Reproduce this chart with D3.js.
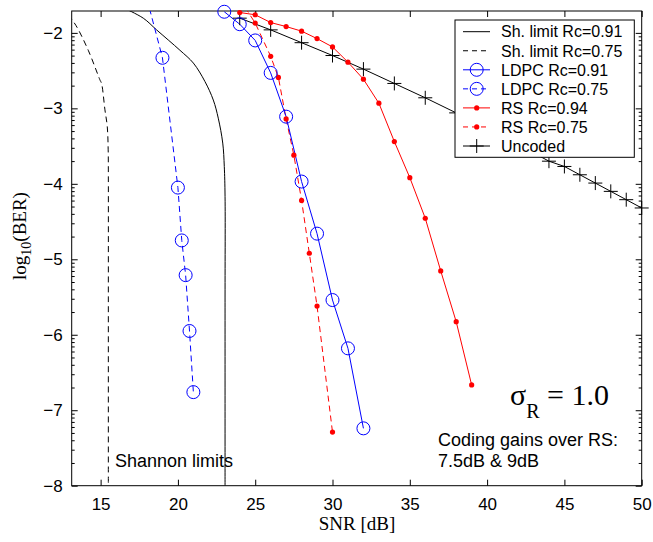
<!DOCTYPE html>
<html><head><meta charset="utf-8">
<script src="https://cdn.jsdelivr.net/npm/d3@7"></script>
<style>
body{margin:0;background:#fff;}
svg{display:block;}
</style></head>
<body>
<svg id="chart" width="653" height="542"></svg>
<script>
// ---- data ----
const xTicks = [15,20,25,30,35,40,45,50];
const yTicks = [-2,-3,-4,-5,-6,-7,-8];

const shannon091 = [[16.5,-1.67],[17.76,-1.805],[18.62,-1.96],[20.13,-2.23],[21.0,-2.40],[21.75,-2.645],[22.29,-2.89],[22.61,-3.13],[22.9,-3.46],[23.0,-3.77],[23.05,-4.17],[23.05,-5.5],[23.05,-8.0]];
const shannon075 = [[12.9,-1.76],[13.4,-1.90],[14.2,-2.23],[14.95,-2.62],[15.06,-2.67],[15.28,-3.02],[15.43,-3.24],[15.49,-3.55],[15.5,-3.9],[15.5,-5.5],[15.5,-8.0]];

const ldpc091Snr = [23,24,25,26,27,28,29,30,31,32];
const ldpc091Ber = [-1.72,-1.885,-2.10,-2.53,-3.11,-3.97,-4.66,-5.54,-6.18,-7.24];

const ldpc075Snr = [18,19,20,20.25,20.5,20.75,21];
const ldpc075Ber = [-1.55,-2.33,-4.05,-4.75,-5.21,-5.95,-6.76];

const rs094Snr = [24,25,26,27,28,29,30,31,32,33,34,35,36,37,38,39];
const rs094Ber = [-1.73,-1.76,-1.863,-1.916,-1.977,-2.076,-2.186,-2.388,-2.614,-2.932,-3.44,-3.918,-4.456,-5.154,-5.826,-6.665];

const rs075Snr = [24,25,26,26.5,27,27.5,28,28.5,29,30];
const rs075Ber = [-1.55,-1.87,-2.31,-2.59,-3.14,-3.62,-4.22,-4.92,-5.62,-7.29];

const uncodedSnr = [24,26,28,30,32,34,36,38,40,42,44,45,46,47,48,49,50];
const uncodedBer = [-1.805,-1.96,-2.13,-2.30,-2.48,-2.67,-2.86,-3.06,-3.27,-3.48,-3.70,-3.77,-3.88,-3.99,-4.10,-4.21,-4.32];

const legendLabels = ["Sh. limit Rc=0.91","Sh. limit Rc=0.75","LDPC Rc=0.91","LDPC Rc=0.75","RS Rc=0.94","RS Rc=0.75","Uncoded"];

// ---- layout ----
const svg = d3.select("#chart");
const L = 71.7, R = 641.7, T = 11, B = 485.7;
const x = d3.scaleLinear().domain([13.13, 50]).range([L, R]);
const y = d3.scaleLinear().domain([-8, -1.71]).range([B, T]);

const sans = "Arial, 'Liberation Sans', Helvetica, sans-serif";
const serif = "'Times New Roman', 'Liberation Serif', serif";

svg.append("defs").append("clipPath").attr("id","clip")
  .append("rect").attr("x",L).attr("y",T).attr("width",R-L).attr("height",B-T);

// axes (bottom/top/left/right)
const gx = svg.append("g").attr("transform",`translate(0,${B})`)
  .call(d3.axisBottom(x).tickValues(xTicks).tickSize(-6).tickPadding(12).tickFormat(d3.format("d")));
const gxt = svg.append("g").attr("transform",`translate(0,${T})`)
  .call(d3.axisTop(x).tickValues(xTicks).tickSize(-6).tickFormat(""));
const gy = svg.append("g").attr("transform",`translate(${L},0)`)
  .call(d3.axisLeft(y).tickValues(yTicks).tickSize(-6).tickPadding(9).tickFormat(d3.format("d")));
const gyr = svg.append("g").attr("transform",`translate(${R},0)`)
  .call(d3.axisRight(y).tickValues(yTicks).tickSize(-6).tickFormat(""));

// minor log ticks
const minor = [];
for (let n=-8;n<=-2;n++) for (let k=2;k<=9;k++){ const v=n+Math.log10(k); if(v<=-1.71) minor.push(v);}
svg.append("g").attr("transform",`translate(${L},0)`)
  .call(d3.axisLeft(y).tickValues(minor).tickSize(-3).tickFormat(""));
svg.append("g").attr("transform",`translate(${R},0)`)
  .call(d3.axisRight(y).tickValues(minor).tickSize(-3).tickFormat(""));

svg.selectAll(".domain").remove();
svg.selectAll(".tick line").attr("stroke","#000").attr("stroke-width",1);
gx.selectAll("text").attr("font-family",sans).attr("font-size",17).attr("fill","#000");
gy.selectAll("text").attr("font-family",sans).attr("font-size",17).attr("fill","#000");

// frame
svg.append("rect").attr("x",L).attr("y",T).attr("width",R-L).attr("height",B-T)
  .attr("fill","none").attr("stroke","#000").attr("stroke-width",1);

const line = d3.line().x(d=>x(d[0])).y(d=>y(d[1]));
const plot = svg.append("g");
const clipped = plot.append("g").attr("clip-path","url(#clip)");

const dash = "6,4";
clipped.append("path").datum(shannon091).attr("d",line.curve(d3.curveCatmullRom.alpha(0.5)))
  .attr("fill","none").attr("stroke","#000").attr("stroke-width",1);
clipped.append("path").datum(shannon075).attr("d",line.curve(d3.curveCatmullRom.alpha(0.5)))
  .attr("fill","none").attr("stroke","#000").attr("stroke-width",1).attr("stroke-dasharray",dash);
line.curve(d3.curveLinear);

function series(snr, ber, color, dashed, marker){
  const pts = snr.map((s,i)=>[s,ber[i]]);
  clipped.append("path").datum(pts).attr("d",line)
    .attr("fill","none").attr("stroke",color).attr("stroke-width",1)
    .attr("stroke-dasharray",dashed?dash:null);
  const vis = pts.filter(p=>p[1] <= -1.71+0.02);
  const g = plot.append("g");
  vis.forEach(p=>drawMarker(g, x(p[0]), y(p[1]), color, marker));
}
function drawMarker(g, cx, cy, color, marker){
  if (marker==="o") g.append("circle").attr("cx",cx).attr("cy",cy).attr("r",6.5)
      .attr("fill","none").attr("stroke",color).attr("stroke-width",1);
  else if (marker==="dot") g.append("circle").attr("cx",cx).attr("cy",cy).attr("r",2.6).attr("fill",color);
  else if (marker==="+") { g.append("path").attr("d",`M${cx-7},${cy}H${cx+7}M${cx},${cy-7}V${cy+7}`)
      .attr("stroke",color).attr("stroke-width",1); }
}
series(uncodedSnr, uncodedBer, "#000", false, "+");
series(rs094Snr, rs094Ber, "#ff0000", false, "dot");
series(rs075Snr, rs075Ber, "#ff0000", true, "dot");
series(ldpc091Snr, ldpc091Ber, "#0000ff", false, "o");
series(ldpc075Snr, ldpc075Ber, "#0000ff", true, "o");

// legend
const lg = svg.append("g");
lg.append("rect").attr("x",455).attr("y",20).attr("width",179.3).attr("height",137.3)
  .attr("fill","#fff").attr("stroke","#000").attr("stroke-width",1);
const legStyles = [
  {c:"#000",d:false,m:null},{c:"#000",d:true,m:null},
  {c:"#0000ff",d:false,m:"o"},{c:"#0000ff",d:true,m:"o"},
  {c:"#ff0000",d:false,m:"dot"},{c:"#ff0000",d:true,m:"dot"},
  {c:"#000",d:false,m:"+"}];
legendLabels.forEach((t,i)=>{
  const cy = 31.7 + i*19.05;
  const s = legStyles[i];
  lg.append("line").attr("x1",463).attr("x2",490).attr("y1",cy).attr("y2",cy)
    .attr("stroke",s.c).attr("stroke-width",1).attr("stroke-dasharray",s.d?"5,4":null);
  if (s.m) drawMarker(lg, 476.7, cy, s.c, s.m);
  lg.append("text").attr("x",501).attr("y",cy).attr("dy","0.36em")
    .attr("font-family",sans).attr("font-size",16).text(t);
});

// axis labels
svg.append("text").attr("x",357).attr("y",530).attr("text-anchor","middle")
  .attr("font-family",serif).attr("font-size",19).text("SNR [dB]");
const yl = svg.append("text").attr("transform","translate(26,236) rotate(-90)")
  .attr("text-anchor","middle").attr("font-family",serif).attr("font-size",19);
yl.append("tspan").text("log");
yl.append("tspan").attr("font-size",14).attr("dy",5).text("10");
yl.append("tspan").attr("dy",-5).text("(BER)");

// annotations
const sg = svg.append("text").attr("x",510).attr("y",405).attr("font-family",serif).attr("font-size",30);
sg.append("tspan").text("σ");
sg.append("tspan").attr("font-size",20).attr("dy",13).text("R");
sg.append("tspan").attr("dy",-13).text(" = 1.0");
svg.append("text").attr("x",438).attr("y",446).attr("font-family",sans).attr("font-size",18).text("Coding gains over RS:");
svg.append("text").attr("x",438).attr("y",467).attr("font-family",sans).attr("font-size",18).text("7.5dB & 9dB");
svg.append("text").attr("x",115).attr("y",467).attr("font-family",sans).attr("font-size",18).text("Shannon limits");
</script>
</body></html>
